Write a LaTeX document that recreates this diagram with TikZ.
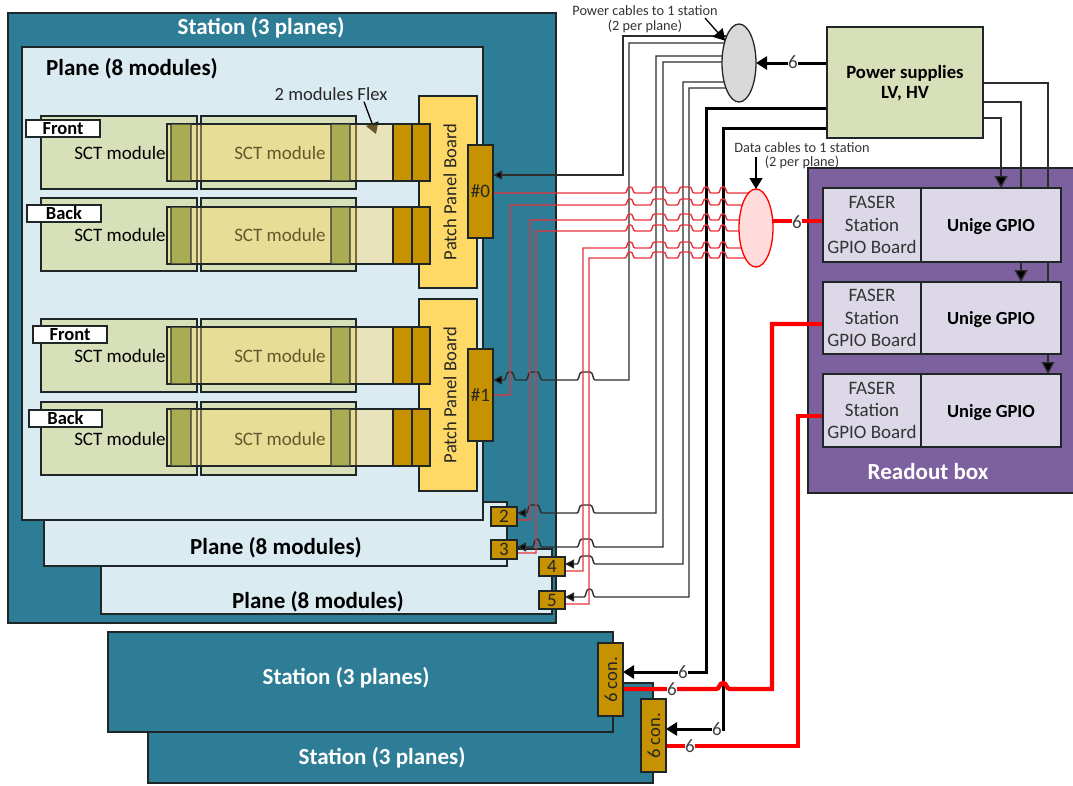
\documentclass[tikz,border=0pt]{standalone}
\usepackage{fontspec}
\setmainfont{Carlito}
\usetikzlibrary{arrows.meta,shapes.geometric,calc}
\pgfdeclarelayer{back}
\pgfdeclarelayer{wire}
\pgfsetlayers{back,wire,main}
\definecolor{teal1}{RGB}{46,125,150}
\definecolor{plane1}{RGB}{218,235,242}
\definecolor{green1}{RGB}{215,224,185}
\definecolor{gold1}{RGB}{255,217,102}
\definecolor{brown1}{RGB}{198,146,0}
\definecolor{olive1}{RGB}{170,172,84}
\definecolor{purple1}{RGB}{125,96,158}
\definecolor{lilac1}{RGB}{221,216,231}
\definecolor{edge1}{RGB}{30,38,40}
\definecolor{wire1}{RGB}{45,45,45}
\definecolor{wred}{RGB}{232,50,60}
\tikzset{
  x=1pt,y=-1pt,
  boxbase/.style={draw=edge1,line width=1.1pt,inner sep=0pt,outer sep=0pt,align=center},
  stationbox/.style={boxbase,fill=teal1},
  planebox/.style={boxbase,fill=plane1},
  modulebox/.style={boxbase,fill=green1},
  flexbox/.style={boxbase,fill=gold1,fill opacity=.4,draw opacity=1},
  stripbox/.style={boxbase,fill=olive1,draw opacity=.6},
  conbox/.style={boxbase,fill=brown1,font=\fontsize{19}{19}\selectfont,text=black!85},
  panelbox/.style={boxbase,fill=gold1},
  tagbox/.style={boxbase,fill=white,font=\fontsize{18.5}{18.5}\bfseries\selectfont},
  pslabel/.style={font=\fontsize{18.7}{20.5}\bfseries\selectfont,align=center},
  sctlabel/.style={font=\fontsize{19}{19}\selectfont,inner sep=0pt},
  bigwhite/.style={font=\fontsize{23}{23}\bfseries\selectfont,text=white,inner sep=0pt},
  bigblack/.style={font=\fontsize{23}{23}\bfseries\selectfont,text=black,inner sep=0pt},
  capt/.style={font=\fontsize{14.3}{14.5}\selectfont,align=center,inner sep=0pt,text=black!80},
  sixlabel/.style={font=\fontsize{19}{19}\selectfont,fill=white,inner sep=.5pt,text=black!75},
  rotlabel/.style={rotate=90,font=\fontsize{18.6}{18.6}\selectfont,inner sep=0pt,text=black!85},
  thinblack/.style={draw=wire1,line width=1.4pt,-{Triangle[length=9pt,width=9pt,fill=black]}},
  feedblack/.style={draw=wire1,line width=1.4pt,-{Triangle[length=12pt,width=13pt,fill=black]}},
  thinred/.style={draw=wred,line width=1.4pt},
  thickblack/.style={draw=black,line width=3pt,-{Triangle[length=11pt,width=13pt,fill=black]}},
  thickred/.style={draw=red,line width=4.4pt},
  callout/.style={draw=black,line width=1.3pt,-{Triangle[length=11pt,width=13pt,fill=black]}},
}
% name, style, x1, y1, x2, y2, text
\newcommand{\bx}[7]{\node[#2,minimum width={(#5-#3)*1pt},minimum height={(#6-#4)*1pt}] (#1) at ({(#3+#5)/2},{(#4+#6)/2}) {#7};}
% rounded hop over a cable, running left to right
\def\hopR#1#2#3{-- (#1,#3) .. controls ({#1+2.5},#3) and ({#1+1.5},{#3-6}) .. ({#1+4.5},{#3-6}) -- ({#2-4.5},{#3-6}) .. controls ({#2-1.5},{#3-6}) and ({#2-2.5},#3) .. (#2,#3)}
% rounded hop over a cable, running right to left
\def\hopL#1#2#3{-- (#1,#3) .. controls ({#1-2.5},#3) and ({#1-1.5},{#3-8}) .. ({#1-5},{#3-8}) -- ({#2+5},{#3-8}) .. controls ({#2+1.5},{#3-8}) and ({#2+2.5},#3) .. (#2,#3)}
\begin{document}
\begin{tikzpicture}
\useasboundingbox (0,0) rectangle (1073,785);

% ---- back layer: large frames ----
\begin{pgfonlayer}{back}
\bx{stationA}{stationbox}{8}{13}{556}{623}{}
\bx{planeC}{planebox}{101}{549}{552}{614}{}
\bx{planeB}{planebox}{44}{502}{507}{566}{}
\bx{planeA}{planebox}{22}{47}{483}{520}{}
\bx{stationC}{stationbox}{148}{683}{653}{783}{}
\bx{stationB}{stationbox}{108}{632}{613}{732}{}
\bx{readout}{boxbase,fill=purple1}{808}{168}{1080}{493}{}
\end{pgfonlayer}

% ---- texts on frames ----
\node[bigwhite] (tStationA) at (261,28) {Station (3 planes)};
\node[bigblack] (tPlaneA) at (132,69) {Plane (8 modules)};
\node[bigblack] (tPlaneB) at (276,548) {Plane (8 modules)};
\node[bigblack] (tPlaneC) at (318,602) {Plane (8 modules)};
\node[bigwhite] (tStationB) at (346,678) {Station (3 planes)};
\node[bigwhite] (tStationC) at (382,758) {Station (3 planes)};
\node[bigwhite] (tReadout) at (928,472) {Readout box};

% ---- patch panel boards ----
\bx{ppA}{panelbox}{419}{96}{477}{288}{}
\bx{ppB}{panelbox}{419}{299}{477}{491}{}
\node[rotlabel] (ppAt) at (450,192) {Patch Panel Board};
\node[rotlabel] (ppBt) at (450,395) {Patch Panel Board};

% ---- flex label ----
\node[font=\fontsize{18.6}{18.6}\selectfont,inner sep=0pt,text=black!85] (flexLabel) at (331,94) {2 modules Flex};
\coordinate (flexTip) at (376,134);
\draw[callout] ($(flexLabel.south)+(33,1)$) -- (flexTip);

% ---- modules ----
\foreach \r/\m/\f in {a/116/124,b/198/207,c/319/327,d/402/409}{
  \pgfmathsetmacro{\mb}{\m+73}
  \pgfmathsetmacro{\fb}{\f+57}
  \pgfmathsetmacro{\tm}{\m+37}
  \bx{mod\r1}{modulebox}{41}{\m}{197}{\mb}{}
  \bx{mod\r2}{modulebox}{201}{\m}{356}{\mb}{}
  \node[sctlabel] (sct\r1) at (120,\tm) {SCT module};
  \node[sctlabel] (sct\r2) at (280,\tm) {SCT module};
  \bx{flex\r}{flexbox}{167}{\f}{393}{\fb}{}
  \bx{strip\r1}{stripbox}{171}{\f}{191}{\fb}{}
  \bx{strip\r2}{stripbox}{331}{\f}{350}{\fb}{}
  \bx{cona\r}{boxbase,fill=brown1}{393}{\f}{412}{\fb}{}
  \bx{conb\r}{boxbase,fill=brown1}{412}{\f}{430}{\fb}{}
}
\bx{tagA}{tagbox}{26}{120}{100}{137}{Front}
\bx{tagB}{tagbox}{27}{205}{101}{222}{Back}
\bx{tagC}{tagbox}{33}{326}{107}{343}{Front}
\bx{tagD}{tagbox}{29}{410}{102}{427}{Back}

% ---- connectors ----
\bx{c0}{conbox}{468}{145}{493}{238}{\#0}
\bx{c1}{conbox}{468}{349}{493}{441}{\#1}
\bx{c2}{conbox}{491}{507}{517}{526}{2}
\bx{c3}{conbox}{491}{540}{517}{559}{3}
\bx{c4}{conbox}{539}{557}{565}{576}{4}
\bx{c5}{conbox}{539}{591}{565}{609}{5}
\bx{sixA}{conbox}{598}{643}{623}{716}{}
\bx{sixB}{conbox}{641}{699}{666}{772}{}
\node[rotlabel] (sixAt) at (611,680) {6 con.};
\node[rotlabel] (sixBt) at (654,736) {6 con.};

% ---- power, readout ----
\bx{ps}{boxbase,fill=green1}{827}{27}{983}{138}{}
\node[pslabel] (psText) at (905,83) {Power supplies\\LV, HV};
\foreach \n/\a/\b in {A/188/262,B/282/354,C/374/447}{
  \bx{far\n}{boxbase,fill=lilac1,font=\fontsize{19}{22.3}\selectfont,text=black!80}{823}{\a}{921}{\b}{FASER\\Station\\GPIO Board}
  \bx{uni\n}{boxbase,fill=lilac1,font=\fontsize{18.5}{18.5}\bfseries\selectfont}{921}{\a}{1061}{\b}{\raisebox{-6.5pt}[1ex][1ex]{Unige GPIO}}
}

% ---- bundles ----
\node[ellipse,draw=black!85,line width=1.3pt,fill=black!15,minimum width=34pt,minimum height=78pt,inner sep=0pt,outer sep=0pt] (grey) at (739,63) {};
\node[ellipse,draw=red,line width=1.3pt,fill=red!14,minimum width=34pt,minimum height=78pt,inner sep=0pt,outer sep=0pt] (pink) at (756,228) {};
\node[capt] (pwrCap) at (645,19) {Power cables to 1 station\\(2 per plane)};
\node[capt] (datCap) at (802,155.5) {Data cables to 1 station\\(2 per plane)};
\coordinate (pwrStart) at (705,18);
\coordinate (datStart) at (756,157);
\draw[callout] (pwrStart) -- (grey.122);
\draw[callout] (datStart) -- (pink.north);

% ---- wires ----
\begin{pgfonlayer}{wire}
% power supplies to readout
\draw[feedblack] (ps.east |- 0,118) -| (uniA.north -| 1001,0);
\draw[feedblack] (ps.east |- 0,102) -| (uniB.north -| 1021,0);
\draw[feedblack] (ps.east |- 0,83) -| (uniC.north -| 1048,0);
% power supplies to bundle and stations
\draw[thickblack] (ps.west |- grey) -- (grey.east);
\draw[thickblack] (ps.west |- 0,108) -| (706,672) -- (sixA.east |- 0,672);
\draw[thickblack] (ps.west |- 0,128) -| (723,729) -- (sixB.east |- 0,729);
% power cables
\draw[thinblack] (grey.center |- 0,36) -| (623,175) -- (c0.east |- 0,175);
\draw[thinblack] (grey.center |- 0,43) -| (629,380) \hopL{595}{577}{380} \hopL{542}{526}{380} \hopL{516}{504}{380} -- (c1.east |- 0,380);
\draw[thinblack] (grey.center |- 0,56) -| (656,513) \hopL{595}{577}{513} \hopL{542}{526}{513} -- (c2.east |- 0,513);
\draw[thinblack] (grey.center |- 0,62) -| (663,547) \hopL{595}{577}{547} \hopL{542}{532}{547} -- (c3.east |- 0,547);
\draw[thinblack] (grey.center |- 0,82) -| (683,564) \hopL{595}{577}{564} -- (c4.east |- 0,564);
\draw[thinblack] (grey.center |- 0,88) -| (689,597) \hopL{595}{584}{597} -- (c5.east |- 0,597);
% data cables
\draw[thinred] (c0.east |- 0,193) \hopR{625}{635}{193} \hopR{650}{668}{193} \hopR{677}{694}{193} \hopR{701}{711}{193} \hopR{718}{728}{193} -- (pink.center |- 0,193);
\draw[thinred] (c1.east |- 0,395) -| (510,205) \hopR{625}{635}{205} \hopR{650}{668}{205} \hopR{677}{694}{205} \hopR{701}{711}{205} \hopR{718}{728}{205} -- (pink.center |- 0,205);
\draw[thinred] (c2.east |- 0,520) -| (530,220) \hopR{625}{635}{220} \hopR{650}{668}{220} \hopR{677}{694}{220} \hopR{701}{711}{220} \hopR{718}{728}{220} -- (pink.center |- 0,220);
\draw[thinred] (c3.east |- 0,553) -| (536,231) \hopR{625}{635}{231} \hopR{650}{668}{231} \hopR{677}{694}{231} \hopR{701}{711}{231} \hopR{718}{728}{231} -- (pink.center |- 0,231);
\draw[thinred] (c4.east |- 0,571) -| (583,248) \hopR{625}{635}{248} \hopR{650}{668}{248} \hopR{677}{694}{248} \hopR{701}{711}{248} \hopR{718}{728}{248} -- (pink.center |- 0,248);
\draw[thinred] (c5.east |- 0,604) -| (589,258) \hopR{625}{635}{258} \hopR{650}{668}{258} \hopR{677}{694}{258} \hopR{701}{711}{258} \hopR{718}{728}{258} -- (pink.center |- 0,258);
% thick data
\draw[thickred] (pink.east |- 0,221) -- (farA.west |- 0,221);
\draw[thickred] (sixA.east |- 0,689) -- (716,689) .. controls (720,689) and (719,683) .. (723,683) .. controls (727,683) and (726,689) .. (730,689) -| (772,324) -- (farB.west |- 0,324);
\draw[thickred] (sixB.east |- 0,746) -| (798,416) -- (farC.west |- 0,416);
\end{pgfonlayer}

% ---- counts ----
\node[sixlabel] (n1) at (793,62) {6};
\node[sixlabel] (n2) at (797,222) {6};
\node[sixlabel] (n3) at (683,672) {6};
\node[sixlabel] (n4) at (672,689) {6};
\node[sixlabel] (n5) at (717,729) {6};
\node[sixlabel] (n6) at (690,746) {6};
\end{tikzpicture}
\end{document}
